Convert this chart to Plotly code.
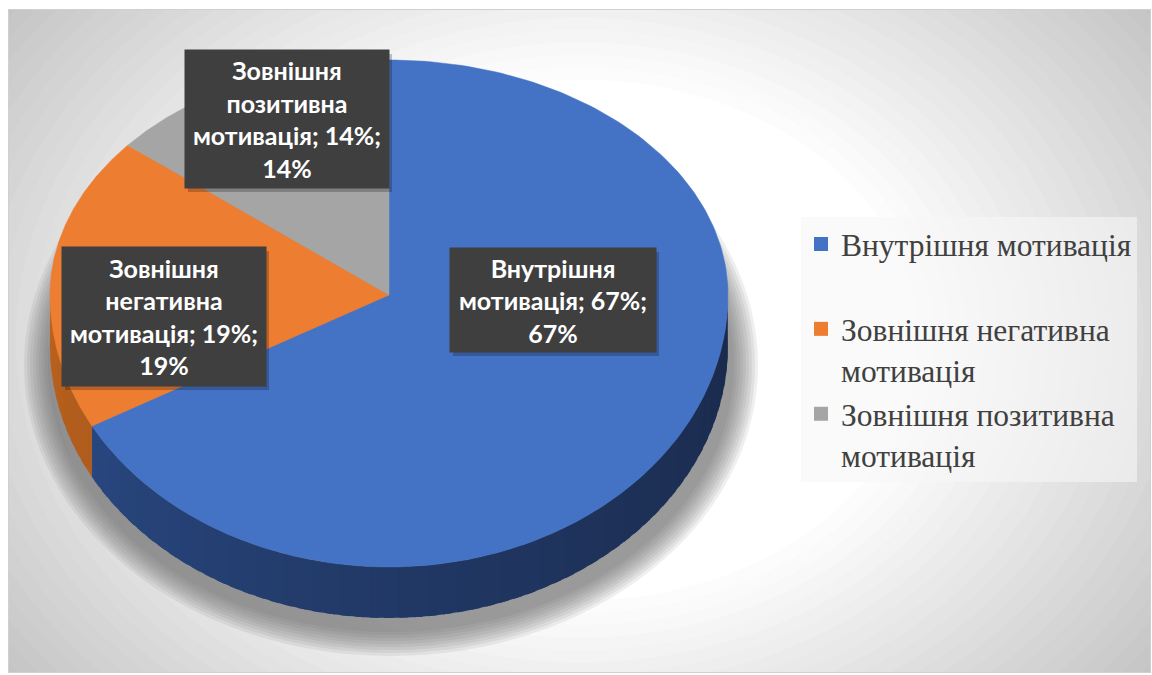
import numpy as np
import plotly.graph_objects as go

# ---------------- data ----------------
categories = ["Внутрішня мотивація", "Зовнішня негативна мотивація", "Зовнішня позитивна мотивація"]
values = [0.67, 0.19, 0.14]
label_wrapped = ["Внутрішня<br>мотивація", "Зовнішня<br>негативна<br>мотивація", "Зовнішня<br>позитивна<br>мотивація"]
legend_wrapped = ["Внутрішня мотивація<br> ", "Зовнішня негативна<br>мотивація", "Зовнішня позитивна<br>мотивація"]
top_colors = ["#4472C4", "#ED7D31", "#A5A5A5"]
side_colors_left = ["#30569A", "#C0651F", "#7F7F7F"]
side_colors_right = ["#1A2A4C", "#8E4A18", "#5F5F5F"]

# ---------------- geometry / style ----------------
CX, CY = 389, 295
RX, RY_BACK, RY_FRONT = 339, 235, 272
DEPTH = 51
X0, X1, Y0, Y1 = 9, 1150, 10, 672


def ell(theta_deg, dy=0.0):
    t = np.radians(theta_deg)
    c = np.cos(t)
    ry = np.where(c > 0, RY_BACK, RY_FRONT)
    return CX + RX * np.sin(t), CY - ry * c + dy


def hex2rgb(h):
    h = h.lstrip("#")
    return np.array([int(h[i:i + 2], 16) for i in (0, 2, 4)], dtype=float)


def lerp_col(a, b, t):
    c = hex2rgb(a) * (1 - t) + hex2rgb(b) * t
    return "rgb(%d,%d,%d)" % tuple(np.round(c))


fig = go.Figure()

total = sum(values)
bounds = np.concatenate([[0], np.cumsum(values)]) / total * 360.0

# side walls (visible front half: 90..270 degrees), drawn from left to right with overlap
for i in range(len(values)):
    a0, a1 = max(bounds[i], 90.0), min(bounds[i + 1], 270.0)
    if a1 <= a0:
        continue
    nseg = max(1, int(np.ceil((a1 - a0) / 2.5)))
    edges = np.linspace(a0, a1, nseg + 1)[::-1]
    for s1, s0 in zip(edges[:-1], edges[1:]):
        hi = min(s1 + 1.5, a1)
        th = np.linspace(s0, hi, 8)
        xt, yt = ell(th)
        xb, yb = ell(th[::-1], DEPTH)
        tmid = (270.0 - 0.5 * (s0 + s1)) / 180.0
        col = lerp_col(side_colors_left[i], side_colors_right[i], np.clip(tmid, 0, 1) ** 0.6)
        fig.add_trace(go.Scatter(
            x=np.concatenate([xt, xb, xt[:1]]), y=np.concatenate([yt, yb, yt[:1]]),
            mode="lines", fill="toself", fillcolor=col,
            line=dict(color=col, width=0), hoverinfo="skip", showlegend=False))

# top faces
for i in range(len(values)):
    th = np.linspace(bounds[i], bounds[i + 1], 200)
    xa, ya = ell(th)
    fig.add_trace(go.Scatter(
        x=np.concatenate([[CX], xa, [CX]]), y=np.concatenate([[CY], ya, [CY]]),
        mode="lines", fill="toself", fillcolor=top_colors[i],
        line=dict(color=top_colors[i], width=0.5),
        name=categories[i], hoverinfo="name", showlegend=False))

# legend entries
for i in range(len(values)):
    fig.add_trace(go.Scatter(
        x=[None], y=[None], mode="markers",
        marker=dict(symbol="square", size=14, color=top_colors[i]),
        name=legend_wrapped[i], legendgroup="g%d" % i, showlegend=True))

shapes = []
# background radial gradient
BGX, BGY = 580, 340
N = 50
rmax = 620
for k in range(N):
    r = rmax * (1 - k / N)
    t = np.clip((r - 260) / (560 - 260), 0, 1)
    col = lerp_col("#FFFFFF", "#C4C4C4", t)
    shapes.append(dict(type="circle", xref="x", yref="y", layer="below",
                       x0=BGX - 1.3 * r, x1=BGX + 1.3 * r, y0=BGY - r, y1=BGY + r,
                       fillcolor=col, line=dict(width=0)))
# soft shadow under the pie
for k in range(9):
    g = 26 - 3 * k
    shapes.append(dict(type="circle", xref="x", yref="y", layer="below",
                       x0=CX - RX - g, x1=CX + RX + g + 4,
                       y0=CY - RY_BACK + 40 - g, y1=CY + RY_FRONT + DEPTH + 12 + g,
                       fillcolor="rgba(95,95,95,0.1)", line=dict(width=0)))

# data label boxes
label_pos = [(553, 300, 206, 104), (164, 316.5, 204, 139), (287, 119, 204, 138)]
annotations = []
for i in range(len(values)):
    x, y, w, h = label_pos[i]
    shapes.append(dict(type="rect", xref="x", yref="y", layer="above",
                       x0=x - w / 2 + 3, x1=x + w / 2 + 3, y0=y - h / 2 + 4, y1=y + h / 2 + 4,
                       fillcolor="rgba(0,0,0,0.22)", line=dict(width=0)))
    txt = "%s; %.0f%%;<br>%.0f%%" % (label_wrapped[i], values[i] * 100, values[i] / total * 100)
    annotations.append(dict(x=x, y=y, xref="x", yref="y", text="<b>%s</b>" % txt,
                            showarrow=False, width=w, height=h, borderpad=0,
                            bgcolor="#3F3F3F", align="center", valign="middle",
                            font=dict(family="Lato, Carlito, sans-serif", size=25, color="white")))

fig.update_layout(
    width=1152, height=675,
    margin=dict(l=X0, r=1152 - X1, t=Y0, b=675 - Y1),
    paper_bgcolor="white", plot_bgcolor="white",
    xaxis=dict(range=[X0, X1], visible=True, showgrid=False, zeroline=False, showticklabels=False,
               ticks="", showline=True, mirror=True, linecolor="#D0D0D0", linewidth=1, fixedrange=True),
    yaxis=dict(range=[Y1, Y0], visible=True, showgrid=False, zeroline=False, showticklabels=False,
               ticks="", showline=True, mirror=True, linecolor="#D0D0D0", linewidth=1, fixedrange=True),
    shapes=shapes, annotations=annotations,
    showlegend=True,
    legend=dict(x=(801 - X0) / (X1 - X0), y=1 - (217 - Y0) / (Y1 - Y0), xanchor="left", yanchor="top",
                bgcolor="rgba(246,246,246,0.6)", borderwidth=0, valign="top",
                font=dict(family="Liberation Serif, Times New Roman, serif", size=31.5, color="#404040"),
                tracegroupgap=3, traceorder="normal"),
    hovermode="closest",
)

fig.write_html("out.html", config={"displayModeBar": False},
               post_script="document.body.style.margin='0';")
